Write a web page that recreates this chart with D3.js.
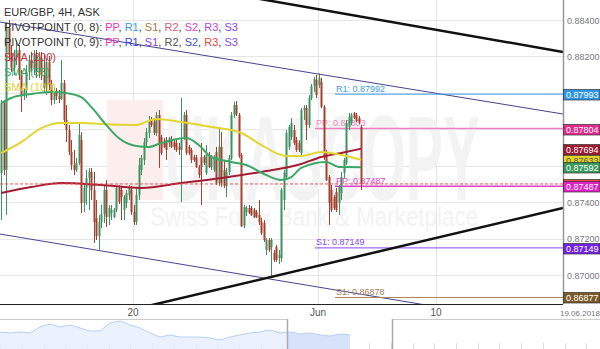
<!DOCTYPE html>
<html>
<head>
<meta charset="utf-8">
<script src="https://cdn.jsdelivr.net/npm/d3@7"></script>
<style>
  body { margin: 0; background: #fff; }
  svg { display: block; font-family: "Liberation Sans", Arial, sans-serif; }
</style>
</head>
<body>
<svg id="chart" width="600" height="349"></svg>
<script>
// EUR/GBP 4H candles, [open, high, low, close], one per candle slot
const ohlc = [
  [0.87560,0.87961,0.87302,0.87944],[0.87944,0.87961,0.87549,0.87577],[0.87577,0.88389,0.87330,0.88356],
  [0.88356,0.88400,0.88181,0.88208],[0.88208,0.88263,0.88115,0.88137],[0.88137,0.88236,0.88098,0.88192],
  [0.88192,0.88290,0.88153,0.88236],[0.88236,0.88263,0.88071,0.88098],[0.88098,0.88126,0.87895,0.87988],
  [0.87988,0.88027,0.87961,0.88016],[0.88016,0.88153,0.87972,0.88115],[0.88115,0.88208,0.88071,0.88181],
  [0.88181,0.88225,0.88115,0.88137],[0.88137,0.88236,0.88098,0.88208],[0.88208,0.88236,0.88082,0.88115],
  [0.88115,0.88225,0.88082,0.88192],[0.88192,0.88225,0.88071,0.88098],[0.88098,0.88208,0.88005,0.88027],
  [0.88027,0.88192,0.87988,0.88170],[0.88170,0.88203,0.88016,0.88043],[0.88043,0.88071,0.87933,0.87961],
  [0.87961,0.88027,0.87939,0.88005],[0.88005,0.88027,0.87961,0.87983],[0.87983,0.88016,0.87944,0.87966],
  [0.87966,0.88181,0.87961,0.88054],[0.88054,0.88071,0.87824,0.87851],[0.87851,0.87933,0.87730,0.87796],
  [0.87796,0.87824,0.87659,0.87676],[0.87676,0.87741,0.87577,0.87604],[0.87604,0.87687,0.87549,0.87577],
  [0.87577,0.87643,0.87566,0.87615],[0.87615,0.87835,0.87604,0.87769],[0.87741,0.87785,0.87341,0.87396],
  [0.87396,0.87494,0.87346,0.87478],[0.87478,0.87577,0.87385,0.87533],[0.87533,0.87588,0.87357,0.87566],
  [0.87566,0.87588,0.87412,0.87467],[0.87467,0.87566,0.87176,0.87291],[0.87313,0.87412,0.87192,0.87214],
  [0.87214,0.87330,0.87138,0.87291],[0.87291,0.87385,0.87258,0.87335],[0.87335,0.87494,0.87286,0.87467],
  [0.87467,0.87522,0.87264,0.87319],[0.87319,0.87385,0.87275,0.87368],[0.87341,0.87385,0.87302,0.87357],
  [0.87319,0.87368,0.87313,0.87357],[0.87357,0.87489,0.87346,0.87478],[0.87478,0.87494,0.87390,0.87401],
  [0.87467,0.87489,0.87302,0.87428],[0.87357,0.87439,0.87302,0.87428],[0.87396,0.87467,0.87368,0.87450],
  [0.87439,0.87494,0.87412,0.87478],[0.87467,0.87489,0.87330,0.87346],[0.87346,0.87385,0.87275,0.87291],
  [0.87291,0.87483,0.87275,0.87439],[0.87439,0.87643,0.87412,0.87604],[0.87577,0.87659,0.87549,0.87643],
  [0.87632,0.87752,0.87604,0.87730],[0.87730,0.87807,0.87698,0.87785],[0.87780,0.87873,0.87752,0.87851],
  [0.87851,0.87868,0.87813,0.87824],[0.87840,0.87862,0.87769,0.87780],[0.87780,0.87895,0.87763,0.87879],
  [0.87879,0.87906,0.87588,0.87725],[0.87758,0.87769,0.87659,0.87670],[0.87730,0.87752,0.87698,0.87703],
  [0.87741,0.87758,0.87632,0.87687],[0.87725,0.87758,0.87703,0.87752],[0.87741,0.87763,0.87698,0.87703],
  [0.87730,0.87747,0.87687,0.87703],[0.87725,0.87741,0.87676,0.87687],[0.87703,0.87725,0.87659,0.87687],
  [0.87687,0.87972,0.87401,0.87741],[0.87758,0.87895,0.87741,0.87879],[0.87879,0.87906,0.87659,0.87670],
  [0.87703,0.87714,0.87659,0.87670],[0.87687,0.87698,0.87615,0.87632],[0.87648,0.87659,0.87621,0.87632],
  [0.87643,0.87659,0.87588,0.87593],[0.87593,0.87604,0.87533,0.87549],[0.87648,0.87725,0.87385,0.87593],
  [0.87648,0.87659,0.87604,0.87615],[0.87560,0.87714,0.87549,0.87659],[0.87659,0.87676,0.87588,0.87593],
  [0.87593,0.87659,0.87577,0.87648],[0.87577,0.87659,0.87566,0.87648],[0.87676,0.87703,0.87494,0.87505],
  [0.87505,0.87813,0.87489,0.87703],[0.87703,0.87785,0.87483,0.87505],[0.87577,0.87632,0.87478,0.87489],
  [0.87489,0.87588,0.87428,0.87566],[0.87566,0.87659,0.87549,0.87643],[0.87643,0.87895,0.87632,0.87879],
  [0.87879,0.87950,0.87862,0.87933],[0.87933,0.87955,0.87873,0.87884],[0.87879,0.87890,0.87643,0.87654],
  [0.87659,0.87670,0.87264,0.87269],[0.87269,0.87385,0.87258,0.87374],[0.87346,0.87379,0.87324,0.87368],
  [0.87368,0.87385,0.87335,0.87341],[0.87368,0.87379,0.87324,0.87330],[0.87357,0.87368,0.87313,0.87319],
  [0.87346,0.87357,0.87313,0.87319],[0.87330,0.87412,0.87275,0.87291],[0.87291,0.87313,0.87220,0.87231],
  [0.87286,0.87302,0.87181,0.87192],[0.87138,0.87203,0.87110,0.87192],[0.87192,0.87203,0.87127,0.87138],
  [0.87154,0.87203,0.86984,0.87192],[0.87121,0.87138,0.87072,0.87083],[0.87154,0.87165,0.87072,0.87083],
  [0.87094,0.87138,0.87061,0.87110],[0.87094,0.87478,0.87072,0.87467],[0.87412,0.87577,0.87357,0.87560],
  [0.87538,0.87796,0.87522,0.87780],[0.87703,0.87824,0.87687,0.87813],[0.87758,0.87862,0.87741,0.87835],
  [0.87796,0.87824,0.87714,0.87725],[0.87741,0.87758,0.87676,0.87687],[0.87725,0.87741,0.87676,0.87687],
  [0.87670,0.87917,0.87659,0.87906],[0.87906,0.87933,0.87851,0.87917],[0.87917,0.87933,0.87741,0.87824],
  [0.87824,0.87988,0.87807,0.87972],[0.87972,0.88049,0.87961,0.88038],[0.88038,0.88087,0.88005,0.88076],
  [0.88071,0.88098,0.87972,0.87988],[0.88043,0.88109,0.88027,0.88082],[0.88060,0.88082,0.87917,0.87923],
  [0.87923,0.87933,0.87632,0.87643],[0.87670,0.87687,0.87516,0.87522],[0.87538,0.87549,0.87275,0.87396],
  [0.87467,0.87494,0.87346,0.87357],[0.87428,0.87439,0.87357,0.87368],[0.87456,0.87478,0.87346,0.87357],
  [0.87396,0.87494,0.87330,0.87483],[0.87450,0.87566,0.87412,0.87538],[0.87560,0.87643,0.87533,0.87632],
  [0.87615,0.87851,0.87604,0.87835],[0.87813,0.87890,0.87796,0.87868],[0.87835,0.87890,0.87824,0.87879],
  [0.87890,0.87895,0.87857,0.87862],[0.87879,0.87890,0.87840,0.87846],[0.87862,0.87873,0.87829,0.87835],
  [0.87813,0.87824,0.87467,0.87500]
];

// moving averages, [candle index, value]
const sma200 = [[0,0.87450],[12,0.87483],[24,0.87505],[40,0.87494],[56,0.87478],[72,0.87505],
  [88,0.87533],[104,0.87566],[120,0.87610],[128,0.87648],[136,0.87670],[144,0.87694]];
const sma100 = [[0,0.87670],[8,0.87730],[16,0.87807],[24,0.87835],[32,0.87835],[40,0.87829],
  [54,0.87824],[62,0.87857],[72,0.87840],[84,0.87813],[96,0.87780],[104,0.87714],[114,0.87654],
  [120,0.87654],[128,0.87676],[136,0.87659],[144,0.87633]];
const sma55 = [[0,0.87944],[4,0.87972],[12,0.87994],[20,0.88005],[26,0.87999],[32,0.87977],
  [36,0.87923],[42,0.87824],[47,0.87752],[54,0.87708],[59,0.87703],[64,0.87725],[74,0.87752],
  [79,0.87714],[84,0.87648],[92,0.87621],[98,0.87604],[106,0.87549],[112,0.87522],[116,0.87538],
  [120,0.87588],[130,0.87621],[135,0.87593],[144,0.87592]];

// pivot levels: value, label, candle index where the level starts
const pivotValues = [0.87993, 0.87804, 0.87487, 0.87149, 0.86877];
const pivotLabels = ["R1: 0.87992", "PP: 0.87803", "PP: 0.87487", "S1: 0.87149", "S1: 0.86878"];
const pivotStart = [133.5, 125.5, 133.5, 125.5, 133.5];
const lastPrice = 0.87500;

// drawn trend lines, two anchors each [candle index, price]
const trendLines = [[[90, 0.88548], [224.7, 0.88225]], [[59.5, 0.86833], [224.7, 0.87368]]];
const channelLines = [[[-0.5, 0.88389], [224.7, 0.87884]], [[-0.5, 0.87225], [224.7, 0.86710]]];

// axis labels
const yTickValues = [0.870, 0.872, 0.874, 0.876, 0.878, 0.880, 0.882, 0.884];
const xTickIndex = [52.7, 126.7, 173.9];
const xTickLabels = ["20", "Jun", "10"];
const endDateIndex = 231.5;
const endDateLabel = "19.06.2018";
const axisBoxValues = [0.87993, 0.87804, 0.87694, 0.87633, 0.87592, 0.87500, 0.87487, 0.87149, 0.86877];

// navigator history (one value per step)
const navValues = [0.88013,0.87907,0.88013,0.87907,0.88547,0.88867,0.88547,0.88760,0.88440,0.88120,
  0.88120,0.88973,0.89187,0.88760,0.88440,0.87907,0.87480,0.87693,0.87480,0.87480,0.87480,0.87373,
  0.87160,0.87480,0.87693,0.87907,0.88013,0.88227,0.87907,0.88013,0.87800,0.87907,0.87693,0.87587,
  0.87800,0.87693];
const navSelection = [28.7, 39.2];

const svg = d3.select("#chart");
const plotW = 563, plotH = 304;

const x = d3.scaleLinear().domain([-0.5, 224.7]).range([0, plotW]);
const y = d3.scaleLinear().domain([0.86841, 0.88510]).range([plotH, 0]);

svg.append("defs").append("clipPath").attr("id", "plotClip")
  .append("rect").attr("width", plotW).attr("height", plotH);

// grid
const grid = svg.append("g");
grid.selectAll(".hg").data(yTickValues).join("line")
  .attr("x1", 0).attr("x2", plotW)
  .attr("y1", d => Math.round(y(d)) + 0.5).attr("y2", d => Math.round(y(d)) + 0.5)
  .attr("stroke", "#e6e6e6");
grid.selectAll(".vg").data(xTickIndex).join("line")
  .attr("x1", d => Math.round(x(d)) + 0.5).attr("x2", d => Math.round(x(d)) + 0.5)
  .attr("y1", 0).attr("y2", plotH)
  .attr("stroke", "#e6e6e6");

const plotG = svg.append("g").attr("clip-path", "url(#plotClip)");

// watermark
const wm = plotG.append("g");
wm.append("rect").attr("x", 107).attr("y", 100).attr("width", 56).attr("height", 100).attr("fill", "#fdeeee");
wm.append("text").attr("x", 165).attr("y", 200).attr("font-size", 120).attr("font-weight", "bold")
  .attr("textLength", 315).attr("lengthAdjust", "spacingAndGlyphs").attr("fill", "#f3f3f3").text("UKASCOPY");
wm.append("text").attr("x", 150).attr("y", 226).attr("font-size", 27)
  .attr("textLength", 328).attr("lengthAdjust", "spacingAndGlyphs").attr("fill", "#f3f3f3")
  .text("Swiss Forex Bank & Marketplace");

const line = d3.line().x(d => x(d[0])).y(d => y(d[1]));

// channel lines
plotG.selectAll(".chan").data(channelLines).join("path")
  .attr("d", line).attr("fill", "none").attr("stroke", "#44448c").attr("stroke-width", 1);

// pivot lines + labels
const pivotColors = ["#3d9ce9", "#f07ec0", "#e03ed0", "#8a47f0", "#a5825a"];
const pivotWidths = [1, 1.5, 1.5, 1, 1];
const pivG = plotG.append("g");
pivG.selectAll("line").data(pivotValues).join("line")
  .attr("x1", (d, i) => x(pivotStart[i])).attr("x2", plotW)
  .attr("y1", d => y(d)).attr("y2", d => y(d))
  .attr("stroke", (d, i) => pivotColors[i]).attr("stroke-width", (d, i) => pivotWidths[i]);
pivG.selectAll("text").data(pivotValues).join("text")
  .attr("x", (d, i) => x(pivotStart[i]) + 1).attr("y", d => y(d) - 2.5)
  .attr("font-size", 9).attr("fill", (d, i) => pivotColors[i])
  .text((d, i) => pivotLabels[i]);

// candles
const up = "#3f9262", down = "#a6402f";
const cg = plotG.append("g").selectAll("g").data(ohlc).join("g")
  .attr("fill", d => d[3] >= d[0] ? up : down)
  .attr("stroke", d => d[3] >= d[0] ? up : down);
cg.append("line")
  .attr("x1", (d, i) => Math.round(x(i)) + 0.5).attr("x2", (d, i) => Math.round(x(i)) + 0.5)
  .attr("y1", d => y(d[1])).attr("y2", d => y(d[2])).attr("stroke-width", 1);
cg.append("rect")
  .attr("x", (d, i) => Math.round(x(i)) - 0.5).attr("width", 2)
  .attr("y", d => y(Math.max(d[0], d[3])))
  .attr("height", d => Math.max(1, Math.abs(y(d[0]) - y(d[3]))))
  .attr("stroke", "none");

// moving averages
const smooth = d3.line().x(d => x(d[0])).y(d => y(d[1])).curve(d3.curveMonotoneX);
[[sma200, "#a31c33"], [sma100, "#e2d52e"], [sma55, "#3aa866"]].forEach(([s, c]) => {
  plotG.append("path").datum(s).attr("d", smooth)
    .attr("fill", "none").attr("stroke", c).attr("stroke-width", 2);
});

// last price line
plotG.append("line").attr("x1", 0).attr("x2", plotW)
  .attr("y1", y(lastPrice)).attr("y2", y(lastPrice))
  .attr("stroke", "#f05050").attr("stroke-width", 1).attr("stroke-dasharray", "3,2");

// trend lines
plotG.selectAll(".trend").data(trendLines).join("path")
  .attr("d", line).attr("fill", "none").attr("stroke", "#111").attr("stroke-width", 2.5);

// axes lines
svg.append("line").attr("x1", 0).attr("x2", plotW).attr("y1", plotH + 0.5).attr("y2", plotH + 0.5)
  .attr("stroke", "#222");
svg.append("line").attr("x1", plotW + 0.5).attr("x2", plotW + 0.5).attr("y1", 0).attr("y2", plotH)
  .attr("stroke", "#999").attr("stroke-width", 1.5);

// y labels
svg.append("g").selectAll("text").data(yTickValues).join("text")
  .attr("x", plotW + 4).attr("y", d => y(d) + 3.5)
  .attr("font-size", 9).attr("fill", "#777")
  .text(d => d.toFixed(5));

// price boxes
const boxColors = ["#2e95e8", "#e32a8e", "#9e1a33", "#e2d422", "#3a9a5b", "#e84848", "#e022c6", "#7222e6", "#7a5a28"];
const boxText = ["#fff", "#fff", "#fff", "#555", "#fff", "#fff", "#fff", "#fff", "#fff"];
const boxes = svg.append("g").selectAll("g").data(axisBoxValues).join("g")
  .attr("transform", d => `translate(${plotW},${Math.round(y(d)) - 5})`);
boxes.append("rect").attr("width", 36.5).attr("height", 10.5).attr("x", 0.5).attr("y", 0.5)
  .attr("fill", (d, i) => boxColors[i]).attr("stroke", "#333").attr("stroke-width", 0.7);
boxes.append("text").attr("x", 3).attr("y", 8.8).attr("font-size", 9)
  .attr("fill", (d, i) => boxText[i]).text(d => d.toFixed(5));

// x labels
svg.append("g").selectAll("text").data(xTickIndex).join("text")
  .attr("x", d => x(d)).attr("y", 316).attr("text-anchor", "middle")
  .attr("font-size", 10).attr("fill", "#555").text((d, i) => xTickLabels[i]);
svg.append("text").attr("x", x(endDateIndex)).attr("y", 316).attr("text-anchor", "middle")
  .attr("font-size", 8).attr("fill", "#777").text(endDateLabel);

// legend
const legend = [
  [["EUR/GBP, 4H, ASK", "#333"]],
  [["PIVOTPOINT (0, 8): ", "#333"], ["PP", "#f032b4"], [", ", "#333"], ["R1", "#3a9ae8"], [", ", "#333"],
   ["S1", "#a07a4a"], [", ", "#333"], ["R2", "#d0607a"], [", ", "#333"], ["S2", "#d045d0"], [", ", "#333"],
   ["R3", "#b545e0"], [", ", "#333"], ["S3", "#8a45f0"]],
  [["PIVOTPOINT (0, 9): ", "#333"], ["PP", "#f032b4"], [", ", "#333"], ["R1", "#4040f0"], [", ", "#333"],
   ["S1", "#8a40f0"], [", ", "#333"], ["R2", "#555"], [", ", "#333"], ["S2", "#4050d0"], [", ", "#333"],
   ["R3", "#e84545"], [", ", "#333"], ["S3", "#8a45f0"]],
  [["SMA (200)", "#c0394a"]],
  [["SMA (55)", "#3cab6a"]],
  [["SMA (100)", "#e0d030"]]
];
const lg = svg.append("g").selectAll("text").data(legend).join("text")
  .attr("x", 4).attr("y", (d, i) => 16 + i * 15).attr("font-size", 11);
lg.selectAll("tspan").data(d => d).join("tspan")
  .attr("fill", d => d[1]).text(d => d[0]);

// navigator
const navTop = 319, navBottom = 349;
const navX = d3.scaleLinear().domain([0, 60]).range([0, 600]);
const navY = d3.scaleLinear().domain([0.862, 0.894]).range([navBottom, navTop]);
const nav = svg.append("g");
nav.selectAll(".nt").data(d3.range(0.03, 60, 2.17)).join("line")
  .attr("x1", d => Math.round(navX(d)) + 0.5).attr("x2", d => Math.round(navX(d)) + 0.5)
  .attr("y1", 343).attr("y2", navBottom).attr("stroke", "#ddd");
const area = d3.area().x((d, i) => navX(i)).y0(navBottom).y1(d => navY(d));
nav.append("path").datum(navValues).attr("d", area).attr("fill", "#e6eefc").attr("fill-opacity", 0.8);
nav.append("defs").append("clipPath").attr("id", "selClip").append("rect")
  .attr("x", navX(navSelection[0])).attr("width", navX(navSelection[1]) - navX(navSelection[0]))
  .attr("y", navTop).attr("height", navBottom - navTop);
nav.append("path").datum(navValues).attr("d", area).attr("fill", "#d6e3fa").attr("clip-path", "url(#selClip)");
nav.append("path").datum(navValues).attr("d", d3.line().x((d, i) => navX(i)).y(d => navY(d)))
  .attr("fill", "none").attr("stroke", "#b7cff5").attr("stroke-width", 1);
nav.append("line").attr("x1", 0).attr("x2", navX(navSelection[0])).attr("y1", navTop + 0.5).attr("y2", navTop + 0.5)
  .attr("stroke", "#ccc");
nav.append("line").attr("x1", navX(navSelection[1])).attr("x2", 600).attr("y1", navTop + 0.5).attr("y2", navTop + 0.5)
  .attr("stroke", "#ccc");
nav.selectAll(".hd").data(navSelection).join("line")
  .attr("x1", d => Math.round(navX(d)) + 0.5).attr("x2", d => Math.round(navX(d)) + 0.5)
  .attr("y1", navTop).attr("y2", navBottom).attr("stroke", "#aaa").attr("stroke-width", 1.5);
</script>
</body>
</html>
